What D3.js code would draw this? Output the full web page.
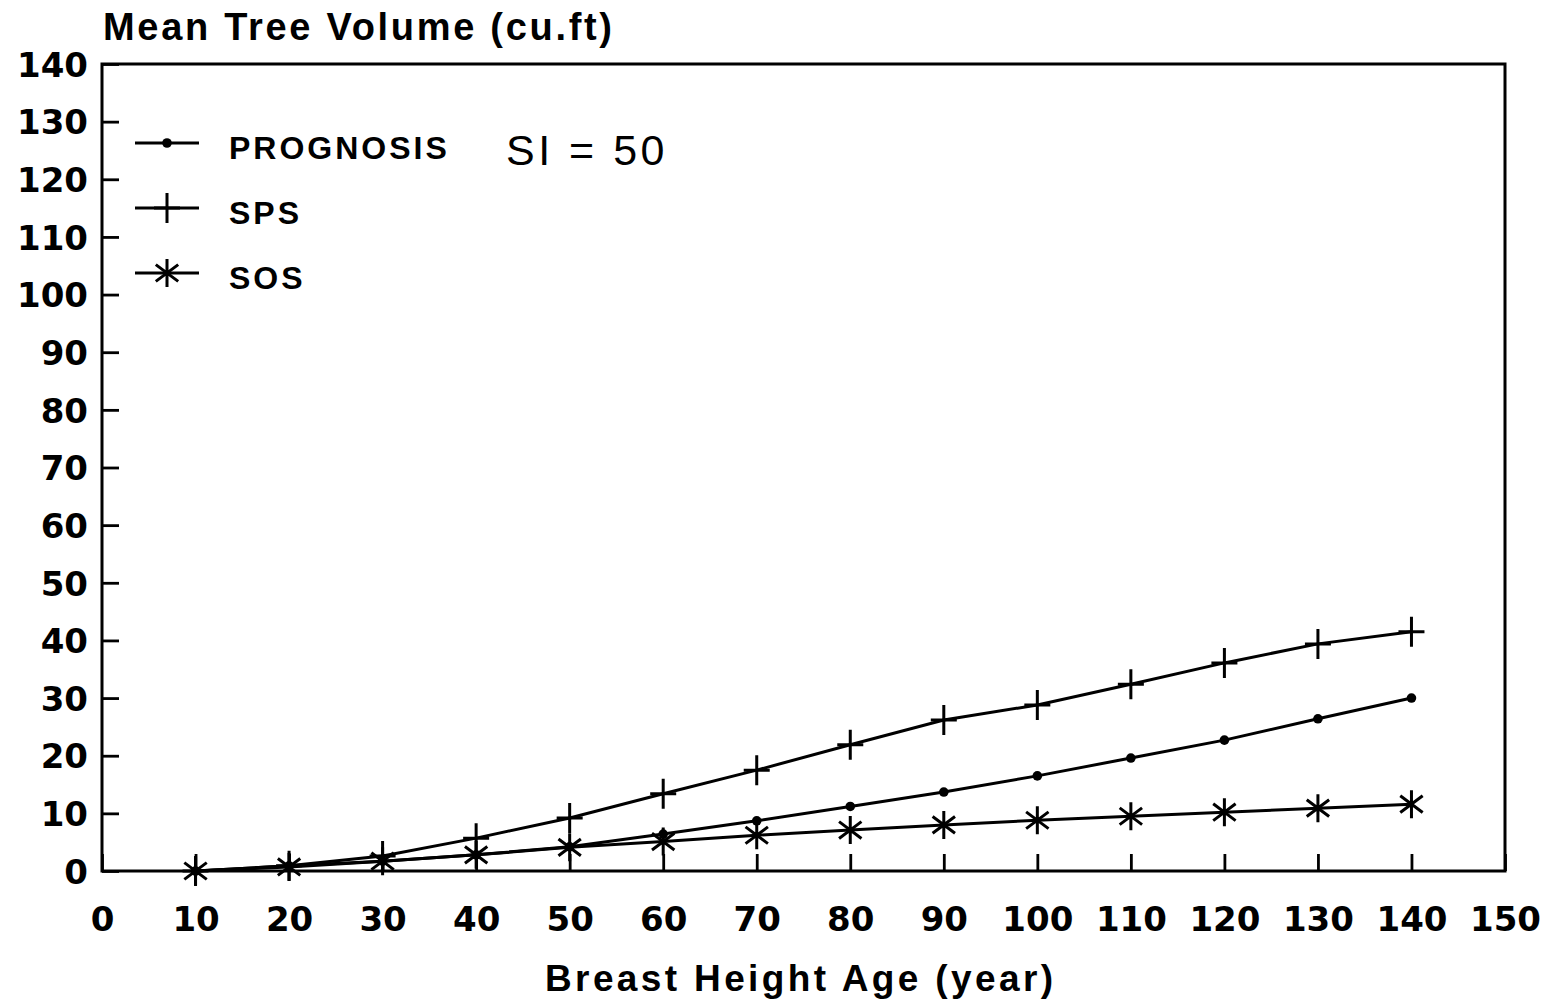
<!DOCTYPE html>
<html>
<head>
<meta charset="utf-8">
<script src="https://cdn.jsdelivr.net/npm/d3@7"></script>
<style>
  html, body { margin: 0; padding: 0; background: #fff; }
  svg { display: block; }
  text { font-family: "Liberation Sans", Arial, sans-serif; fill: #000; }
</style>
</head>
<body>
<svg id="chart" width="1549" height="1003"></svg>
<script>
// Breast height age (years)
const ages = [10, 20, 30, 40, 50, 60, 70, 80, 90, 100, 110, 120, 130, 140];
// Mean tree volume (cu.ft) per model
const prognosis = [0, 0.9, 1.7, 2.8, 4.2, 6.4, 8.7, 11.2, 13.7, 16.5, 19.6, 22.7, 26.4, 30.0];
const sps       = [0, 0.9, 2.6, 5.7, 9.2, 13.4, 17.5, 21.9, 26.2, 28.8, 32.4, 36.1, 39.4, 41.5];
const sos       = [0, 0.7, 1.7, 2.8, 4.1, 5.1, 6.2, 7.1, 8.0, 8.8, 9.5, 10.2, 10.9, 11.6];
const seriesNames = ["PROGNOSIS", "SPS", "SOS"];
const xTicks = [0, 10, 20, 30, 40, 50, 60, 70, 80, 90, 100, 110, 120, 130, 140, 150];
const yTicks = [0, 10, 20, 30, 40, 50, 60, 70, 80, 90, 100, 110, 120, 130, 140];

const svg = d3.select("#chart");
const plot = { left: 102, right: 1505, top: 64, bottom: 871 };

const x = d3.scaleLinear().domain([0, 150]).range([plot.left, plot.right]);
const y = d3.scaleLinear().domain([0, 140]).range([plot.bottom, plot.top]);

// Frame
svg.append("rect")
  .attr("x", plot.left).attr("y", plot.top)
  .attr("width", plot.right - plot.left).attr("height", plot.bottom - plot.top)
  .attr("fill", "none").attr("stroke", "#000").attr("stroke-width", 3);

// Axes with inward ticks
const xAxis = svg.append("g")
  .attr("transform", `translate(0,${plot.bottom})`)
  .call(d3.axisBottom(x).tickValues(xTicks).tickSize(-17).tickPadding(36).tickFormat(d3.format("d")));
const yAxis = svg.append("g")
  .attr("transform", `translate(${plot.left},0)`)
  .call(d3.axisLeft(y).tickValues(yTicks).tickSize(-17).tickPadding(14).tickFormat(d3.format("d")));

[xAxis, yAxis].forEach(g => {
  g.select(".domain").remove();
  g.selectAll(".tick line").attr("stroke", "#000").attr("stroke-width", 2.8);
  g.selectAll(".tick text")
    .style("font-family", "'DejaVu Sans', sans-serif")
    .style("font-weight", "bold")
    .style("font-size", "34px")
    .attr("fill", "#000");
});
xAxis.selectAll(".tick text").attr("dy", "0.71em");
yAxis.selectAll(".tick text").attr("dy", "0.36em");

// Axis titles
svg.append("text")
  .attr("x", 103).attr("y", 40)
  .attr("textLength", 509).attr("lengthAdjust", "spacing")
  .style("font-weight", "bold").style("font-size", "38px")
  .text("Mean Tree Volume (cu.ft)");
svg.append("text")
  .attr("x", 545).attr("y", 991)
  .attr("textLength", 508).attr("lengthAdjust", "spacing")
  .style("font-weight", "bold").style("font-size", "37px")
  .text("Breast Height Age (year)");

// Series lines
const line = d3.line().x(d => x(d[0])).y(d => y(d[1]));
const data = [prognosis, sps, sos].map(vals => ages.map((a, i) => [a, vals[i]]));
const lineLayer = svg.append("g");
data.forEach(pts => {
  lineLayer.append("path")
    .datum(pts)
    .attr("d", line)
    .attr("fill", "none").attr("stroke", "#000").attr("stroke-width", 3);
});

// Marker drawers
function dot(g, cx, cy) {
  g.append("circle").attr("cx", cx).attr("cy", cy).attr("r", 4.8).attr("fill", "#000");
}
function plus(g, cx, cy) {
  g.append("path")
    .attr("d", `M${cx},${cy - 15}V${cy + 15}M${cx - 13},${cy}H${cx + 13}`)
    .attr("stroke", "#000").attr("stroke-width", 3).attr("fill", "none");
}
function star(g, cx, cy) {
  const r = 14, dx = r * 0.8, dy = r * 0.6;
  g.append("path")
    .attr("d", `M${cx},${cy - r}V${cy + r}M${cx - dx},${cy - dy}L${cx + dx},${cy + dy}M${cx - dx},${cy + dy}L${cx + dx},${cy - dy}`)
    .attr("stroke", "#000").attr("stroke-width", 3).attr("fill", "none");
}
const markers = [dot, plus, star];

const markLayer = svg.append("g");
data.forEach((pts, s) => {
  pts.forEach(p => markers[s](markLayer, x(p[0]), y(p[1])));
});

// Legend
const legendRows = [143, 208, 273];
const legend = svg.append("g");
seriesNames.forEach((name, i) => {
  const ly = legendRows[i];
  legend.append("line")
    .attr("x1", 135).attr("x2", 199).attr("y1", ly).attr("y2", ly)
    .attr("stroke", "#000").attr("stroke-width", 3);
  markers[i](legend, 167, ly);
  legend.append("text")
    .attr("x", 229).attr("y", ly + 16)
    .style("font-weight", "bold").style("font-size", "32px")
    .style("letter-spacing", "3px")
    .text(name);
});

// Site index annotation
svg.append("text")
  .attr("x", 506).attr("y", 165)
  .attr("xml:space", "preserve")
  .style("font-size", "43px")
  .style("letter-spacing", "3.5px")
  .text("SI = 50");
</script>
</body>
</html>
